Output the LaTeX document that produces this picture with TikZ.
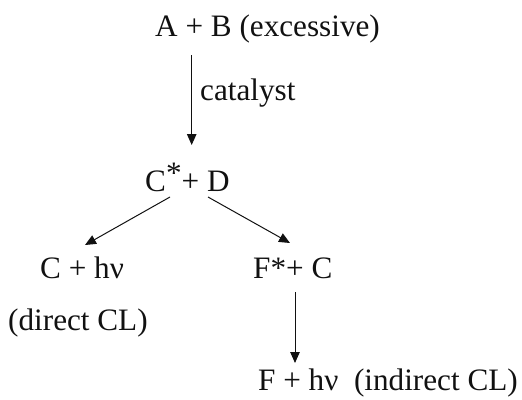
\documentclass[tikz,border=0pt]{standalone}
\usepackage{fontspec}
\setmainfont{Liberation Serif}
\usetikzlibrary{arrows.meta,calc}
\definecolor{Ink}{HTML}{111111}

\begin{document}
\begin{tikzpicture}[x=1pt,y=-1pt,
    species/.style={anchor=base west,inner sep=0pt,text=Ink,
      font=\fontsize{31.2}{37}\selectfont},
    step arrow/.style={draw=Ink,line width=1pt,
      -{Triangle[length=11pt,width=9.5pt]}}]
  \useasboundingbox (0,0) rectangle (522,399);
  % reaction species
  \node[species] (ab)  at (155,36)  {A + B (excessive)};
  \node[species] (cat) at (200,100) {catalyst};
  \node[species] (cd)  at (145,191) {C\raisebox{8pt}{*}+ D};
  \node[species] (chv) at (40,278)  {C + hν};
  \node[species] (fc)  at (253,278) {F*+ C};
  \node[species] (dcl) at (8,330)   {(direct CL)};
  \node[species] (fhv) at (258,390) {F + hν\ \ (indirect CL)};
  % steps
  \draw[step arrow] ($(ab.base west)+(36.7,19)$) -- ($(cd.base west)+(46.7,-46)$);
  \draw[step arrow] ($(cd.base west)+(25,6)$) -- ($(chv.base west)+(45,-33)$);
  \draw[step arrow] ($(cd.base west)+(63,6)$) -- ($(fc.base west)+(37,-35)$);
  \draw[step arrow] ($(fc.base west)+(42,14)$) -- ($(fhv.base west)+(37,-27)$);
\end{tikzpicture}
\end{document}
